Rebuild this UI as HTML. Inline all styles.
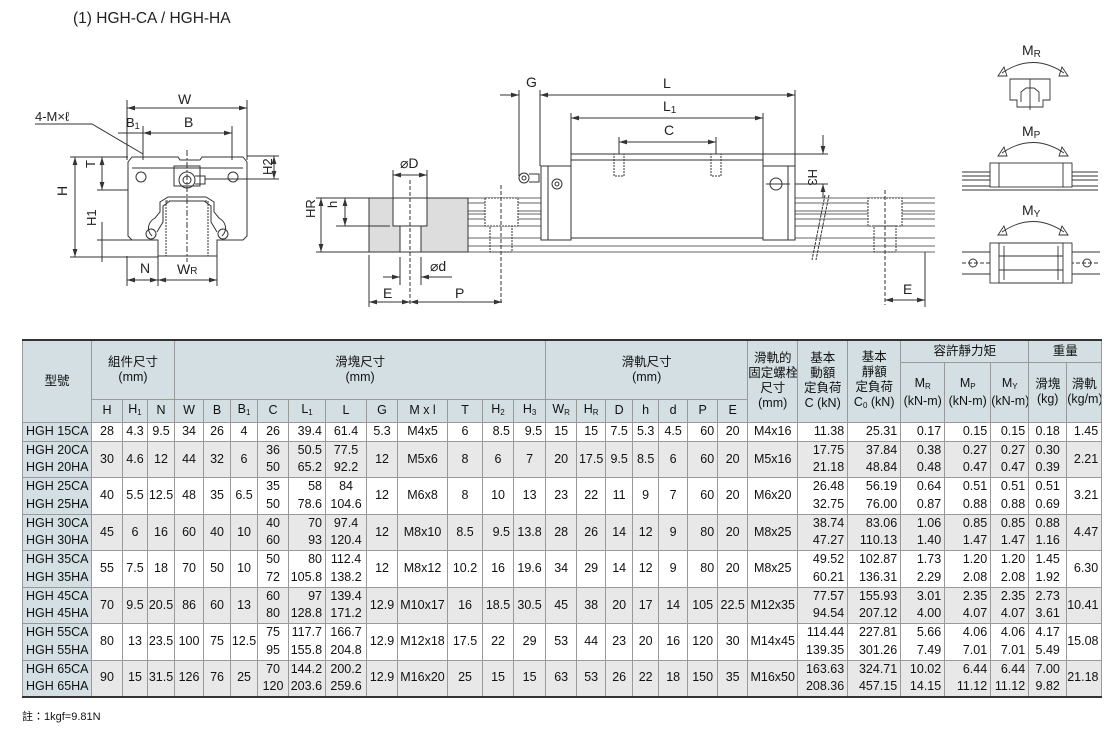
<!DOCTYPE html>
<html><head><meta charset="utf-8"><style>
body{margin:0;width:1111px;height:730px;background:#fff;position:relative;overflow:hidden;font-family:"Liberation Sans","Noto Sans CJK TC",sans-serif;color:#111}
svg{position:absolute;left:0;top:0}
svg text{font-family:"Liberation Sans","Noto Sans CJK TC",sans-serif;fill:#222}
.d{marker-start:url(#a);marker-end:url(#a)}
table{position:absolute;left:22px;top:339px;border-collapse:collapse;table-layout:fixed;width:1079px;font-size:12.5px}
td{border:1px solid #999;padding:0;text-align:center;white-space:nowrap;overflow:hidden;line-height:17.5px}
thead td{background:#d4dfe3;font-size:12.5px;line-height:15px}
thead tr:first-child td{border-top:2px solid #333}
.m{background:#d4dfe3;text-align:left;padding-left:3px;font-size:12.5px}
tbody tr.g td{background:#e8e8e8}
tbody tr.g td.m{background:#d4dfe3}
tbody tr{border-top:1px solid #444}
tbody tr:last-child td{border-bottom:2px solid #333}
.r{text-align:right;padding-right:3px}
sub{font-size:8px;vertical-align:-2px}
.note{position:absolute;left:22px;top:708px;font-size:11px}
</style></head><body>
<svg width="1111" height="335" viewBox="0 0 1111 335" fill="none" stroke="#333" stroke-width="1">
<defs><marker id="a" viewBox="0 0 10 6" refX="10" refY="3" markerWidth="8" markerHeight="5" orient="auto-start-reverse" markerUnits="userSpaceOnUse"><path d="M0 0 L10 3 L0 6 Z" fill="#333" stroke="none"/></marker></defs>
<text x="73" y="23" font-size="15.5" stroke="none">(1) HGH-CA / HGH-HA</text>
<g>
<text x="178" y="104" font-size="14" stroke="none">W</text>
<line class="d" x1="127" y1="108" x2="247" y2="108"/><line x1="127" y1="100" x2="127" y2="160"/><line x1="247" y1="100" x2="247" y2="160"/>
<text x="126" y="127" font-size="13" stroke="none">B<tspan font-size="9" dy="2">1</tspan></text>
<text x="184" y="127" font-size="14" stroke="none">B</text>
<line class="d" x1="143" y1="133" x2="232" y2="133"/><line x1="118" y1="133" x2="143" y2="133"/><line x1="143" y1="126" x2="143" y2="160"/><line x1="232" y1="126" x2="232" y2="160"/>
<text x="35" y="121" font-size="13" stroke="none">4-M×ℓ</text>
<path d="M35 124 H92 L143 154"/>
<path d="M128 162 L132 157 H178 L180 160 H200 L202 157 H243 L247 162 V236 L243 240 H217 V256 H158 V240 H132 L128 236 Z"/>
<path d="M132 168 H243"/>
<rect x="174" y="166" width="26" height="20"/>
<circle cx="187" cy="180" r="8"/><circle cx="187" cy="180" r="4"/><path d="M195 176 H205 V184 H195"/>
<path d="M152 236 C146 230 148 222 155 218 L160 212 V202 L168 197 H206 L214 202 V212 L219 218 C226 222 228 230 222 236"/>
<path d="M157 232 L163 222 V206 L170 201 H204 L211 206 V222 L217 232"/>
<rect x="166" y="201" width="42" height="55" stroke-dasharray="2 1"/>
<circle cx="141" cy="177" r="5"/><circle cx="233" cy="177" r="5"/><circle cx="151" cy="234" r="5"/><circle cx="223" cy="234" r="5"/>
<line x1="187" y1="150" x2="187" y2="262" stroke-dasharray="6 2 2 2"/>
<line class="d" x1="75" y1="157" x2="75" y2="257"/><line x1="70" y1="157" x2="128" y2="157"/><line x1="70" y1="257" x2="158" y2="257"/>
<text x="68" y="205" font-size="14" stroke="none" transform="rotate(-90 63 201)">H</text>
<line class="d" x1="102" y1="157" x2="102" y2="190"/><line x1="97" y1="190" x2="128" y2="190"/>
<text x="95" y="176" font-size="13" stroke="none" transform="rotate(-90 91 172)">T</text>
<line class="d" x1="274" y1="156" x2="274" y2="179"/><line x1="247" y1="156" x2="279" y2="156"/><line x1="205" y1="179" x2="279" y2="179"/>
<text x="260" y="175" font-size="13" stroke="none" transform="rotate(-90 266 169)">H2</text>
<line x1="102" y1="222" x2="102" y2="262"/><line x1="97" y1="240" x2="132" y2="240"/>
<text x="96" y="234" font-size="13" stroke="none" transform="rotate(-90 92 230)">H1</text>
<line x1="127" y1="256" x2="127" y2="286"/><line x1="158" y1="256" x2="158" y2="286"/><line x1="217" y1="256" x2="217" y2="286"/>
<line class="d" x1="127" y1="280" x2="158" y2="280"/><line class="d" x1="158" y1="280" x2="217" y2="280"/>
<text x="140" y="273" font-size="14" stroke="none">N</text>
<text x="177" y="274" font-size="14" stroke="none">W<tspan font-size="10">R</tspan></text>
</g>
<g>
<rect x="369" y="198" width="99" height="54" fill="#ddd" stroke="#333"/>
<rect x="393" y="198" width="34" height="28" fill="#fff"/>
<rect x="400" y="226" width="21" height="26" fill="#fff"/>
<line x1="410" y1="180" x2="410" y2="305" stroke-dasharray="4 2"/>
<path d="M468 198 V252"/>
<path d="M468 198 H935 M468 203 H935 M468 211 H935 M468 214 H935 M468 219 H935 M468 226 H935 M468 238 H935 M468 246 H935 M468 252 H935" stroke-width="0.8"/>
<rect x="485" y="198" width="33" height="28" stroke-dasharray="2 1" fill="#fff"/><rect x="490" y="226" width="22" height="26" stroke-dasharray="2 1"/>
<line x1="501" y1="185" x2="501" y2="305" stroke-dasharray="4 2"/>
<rect x="868" y="198" width="34" height="28" stroke-dasharray="2 1" fill="#fff"/><rect x="874" y="226" width="22" height="26" stroke-dasharray="2 1"/>
<line x1="885" y1="190" x2="885" y2="305" stroke-dasharray="4 2"/>
<rect x="541" y="166" width="30" height="74" fill="#fff"/><rect x="571" y="154" width="192" height="84" fill="#fff"/><rect x="763" y="166" width="32" height="74" fill="#fff"/>
<line x1="571" y1="160" x2="763" y2="160"/><line x1="548" y1="166" x2="548" y2="240"/><line x1="788" y1="166" x2="788" y2="240"/>
<rect x="614" y="154" width="10" height="22" stroke-dasharray="2 1"/><rect x="711" y="154" width="10" height="22" stroke-dasharray="2 1"/>
<circle cx="557" cy="184" r="5"/><circle cx="557" cy="184" r="2"/><circle cx="776" cy="184" r="6"/><line x1="766" y1="184" x2="790" y2="184"/>
<circle cx="524" cy="178" r="5"/><circle cx="524" cy="178" r="2"/><path d="M529 174 H539 V182 H529"/>
<path d="M825 195 L812 260 M829 195 L816 260" stroke-dasharray="3 1"/>
<text x="526" y="87" font-size="14" stroke="none">G</text>
<line x1="500" y1="95" x2="519" y2="95" marker-end="url(#a)"/><line x1="540" y1="95" x2="795" y2="95" class="d"/><line x1="519" y1="90" x2="519" y2="176"/><line x1="540" y1="90" x2="540" y2="166"/><line x1="795" y1="90" x2="795" y2="166"/>
<text x="663" y="88" font-size="14" stroke="none">L</text>
<text x="663" y="111" font-size="14" stroke="none">L<tspan font-size="10" dy="2">1</tspan></text>
<line class="d" x1="571" y1="118" x2="763" y2="118"/><line x1="571" y1="113" x2="571" y2="154"/><line x1="763" y1="113" x2="763" y2="166"/>
<text x="664" y="135" font-size="14" stroke="none">C</text>
<line class="d" x1="619" y1="142" x2="716" y2="142"/><line x1="619" y1="137" x2="619" y2="154"/><line x1="716" y1="137" x2="716" y2="154"/>
<line x1="823" y1="135" x2="823" y2="154" marker-end="url(#a)"/><line x1="823" y1="198" x2="823" y2="184" marker-end="url(#a)"/><line x1="763" y1="154" x2="828" y2="154"/><line x1="795" y1="184" x2="828" y2="184"/>
<text x="808" y="177" font-size="13" stroke="none" transform="rotate(90 812 173)">H3</text>
<text x="400" y="168" font-size="14" stroke="none">⌀D</text>
<line class="d" x1="393" y1="175" x2="427" y2="175"/><line x1="393" y1="170" x2="393" y2="198"/><line x1="427" y1="170" x2="427" y2="198"/>
<line class="d" x1="321" y1="198" x2="321" y2="252"/><line x1="316" y1="198" x2="369" y2="198"/><line x1="316" y1="252" x2="369" y2="252"/>
<text x="315" y="228" font-size="13" stroke="none" transform="rotate(-90 310 223)">HR</text>
<line class="d" x1="345" y1="198" x2="345" y2="226"/><line x1="336" y1="226" x2="390" y2="226"/>
<text x="337" y="216" font-size="13" stroke="none" transform="rotate(-90 333 212)">h</text>
<text x="430" y="271" font-size="14" stroke="none">⌀d</text>
<line x1="383" y1="277" x2="400" y2="277" marker-end="url(#a)"/><line x1="452" y1="277" x2="421" y2="277" marker-end="url(#a)"/><line x1="400" y1="257" x2="400" y2="285"/><line x1="421" y1="257" x2="421" y2="285"/>
<text x="383" y="298" font-size="14" stroke="none">E</text><text x="455" y="298" font-size="14" stroke="none">P</text>
<line class="d" x1="369" y1="302" x2="410" y2="302"/><line class="d" x1="410" y1="302" x2="502" y2="302"/><line x1="369" y1="255" x2="369" y2="307"/>
<text x="903" y="294" font-size="14" stroke="none">E</text>
<line class="d" x1="885" y1="300" x2="925" y2="300"/><line x1="925" y1="252" x2="925" y2="307"/>
</g>
<g stroke-width="0.9">
<text x="1022" y="55" font-size="14" stroke="none">M<tspan font-size="10" dy="2">R</tspan></text>
<path d="M1002 73 Q1033 52 1064 73"/><path d="M998 76 L1004 67 L1007 76 Z M1068 76 L1062 67 L1059 76 Z"/>
<path d="M1010 79 H1050 V100 H1043 V107 H1017 V100 H1010 Z"/><path d="M1021 102 V92 L1026 88 H1034 L1039 92 V102"/><line x1="1030" y1="79" x2="1030" y2="110"/>
<text x="1022" y="136" font-size="14" stroke="none">M<tspan font-size="10" dy="2">P</tspan></text>
<path d="M1002 153 Q1033 132 1064 153"/><path d="M998 156 L1004 147 L1007 156 Z M1068 156 L1062 147 L1059 156 Z"/>
<path d="M962 172 H1098 M962 176 H1098 M962 180 H1098 M962 186 H1098 M962 190 H1098"/>
<rect x="990" y="163" width="82" height="24" fill="#fff"/><line x1="999" y1="163" x2="999" y2="187"/><line x1="1063" y1="163" x2="1063" y2="187"/>
<text x="1022" y="215" font-size="14" stroke="none">M<tspan font-size="10" dy="2">Y</tspan></text>
<path d="M1002 232 Q1033 211 1064 232"/><path d="M998 235 L1004 226 L1007 235 Z M1068 235 L1062 226 L1059 235 Z"/>
<path d="M962 252 H1100 M962 274 H1100"/><line x1="962" y1="263" x2="1100" y2="263" stroke-dasharray="4 2"/>
<circle cx="973" cy="263" r="4"/><circle cx="1087" cy="263" r="4"/>
<rect x="990" y="243" width="82" height="40" fill="#fff"/><rect x="999" y="243" width="64" height="40"/>
<line x1="999" y1="256" x2="1063" y2="256"/><line x1="999" y1="270" x2="1063" y2="270"/>
<line x1="1004" y1="246" x2="1004" y2="280"/><line x1="1058" y1="246" x2="1058" y2="280"/>
</g>
</svg>
<table>
<colgroup><col style="width:69px"><col style="width:31px"><col style="width:25px"><col style="width:27px"><col style="width:29px"><col style="width:27px"><col style="width:27px"><col style="width:31px"><col style="width:37px"><col style="width:41px"><col style="width:31px"><col style="width:50px"><col style="width:35px"><col style="width:31px"><col style="width:32px"><col style="width:31px"><col style="width:29px"><col style="width:27px"><col style="width:26px"><col style="width:29px"><col style="width:30px"><col style="width:30px"><col style="width:50px"><col style="width:50px"><col style="width:53px"><col style="width:44px"><col style="width:46px"><col style="width:38px"><col style="width:38px"><col style="width:35px"></colgroup>
<thead>
<tr style="height:22px"><td rowspan="3">型號</td><td colspan="3" rowspan="2">組件尺寸<br>(mm)</td><td colspan="11" rowspan="2">滑塊尺寸<br>(mm)</td><td colspan="7" rowspan="2">滑軌尺寸<br>(mm)</td><td rowspan="3">滑軌的<br>固定螺栓<br>尺寸<br>(mm)</td><td rowspan="3">基本<br>動額<br>定負荷<br>C (kN)</td><td rowspan="3">基本<br>靜額<br>定負荷<br>C<sub>0</sub> (kN)</td><td colspan="3">容許靜力矩</td><td colspan="2">重量</td></tr>
<tr style="height:37px"><td rowspan="2">M<sub>R</sub><br>(kN-m)</td><td rowspan="2">M<sub>P</sub><br>(kN-m)</td><td rowspan="2">M<sub>Y</sub><br>(kN-m)</td><td rowspan="2">滑塊<br>(kg)</td><td rowspan="2">滑軌<br>(kg/m)</td></tr>
<tr style="height:23px"><td>H</td><td>H<sub>1</sub></td><td>N</td><td>W</td><td>B</td><td>B<sub>1</sub></td><td>C</td><td>L<sub>1</sub></td><td>L</td><td>G</td><td>M x l</td><td>T</td><td>H<sub>2</sub></td><td>H<sub>3</sub></td><td>W<sub>R</sub></td><td>H<sub>R</sub></td><td>D</td><td>h</td><td>d</td><td>P</td><td>E</td></tr>
</thead>
<tbody>
<tr style="height:19px"><td class="m">HGH 15CA</td><td>28</td><td>4.3</td><td>9.5</td><td>34</td><td>26</td><td>4</td><td>26</td><td class="r">39.4</td><td>61.4</td><td>5.3</td><td>M4x5</td><td>6</td><td class="r">8.5</td><td class="r">9.5</td><td>15</td><td>15</td><td>7.5</td><td>5.3</td><td>4.5</td><td class="r">60</td><td>20</td><td>M4x16</td><td class="r">11.38</td><td class="r">25.31</td><td class="r">0.17</td><td class="r">0.15</td><td class="r">0.15</td><td>0.18</td><td class="r">1.45</td></tr>
<tr class="g" style="height:36.5px"><td class="m">HGH 20CA<br>HGH 20HA</td><td>30</td><td>4.6</td><td>12</td><td>44</td><td>32</td><td>6</td><td>36<br>50</td><td class="r">50.5<br>65.2</td><td>77.5<br>92.2</td><td>12</td><td>M5x6</td><td>8</td><td>6</td><td>7</td><td>20</td><td>17.5</td><td>9.5</td><td>8.5</td><td>6</td><td class="r">60</td><td>20</td><td>M5x16</td><td class="r">17.75<br>21.18</td><td class="r">37.84<br>48.84</td><td class="r">0.38<br>0.48</td><td class="r">0.27<br>0.47</td><td class="r">0.27<br>0.47</td><td>0.30<br>0.39</td><td class="r">2.21</td></tr>
<tr style="height:36.5px"><td class="m">HGH 25CA<br>HGH 25HA</td><td>40</td><td>5.5</td><td>12.5</td><td>48</td><td>35</td><td>6.5</td><td>35<br>50</td><td class="r">58<br>78.6</td><td>84<br>104.6</td><td>12</td><td>M6x8</td><td>8</td><td>10</td><td>13</td><td>23</td><td>22</td><td>11</td><td>9</td><td>7</td><td class="r">60</td><td>20</td><td>M6x20</td><td class="r">26.48<br>32.75</td><td class="r">56.19<br>76.00</td><td class="r">0.64<br>0.87</td><td class="r">0.51<br>0.88</td><td class="r">0.51<br>0.88</td><td>0.51<br>0.69</td><td class="r">3.21</td></tr>
<tr class="g" style="height:36.5px"><td class="m">HGH 30CA<br>HGH 30HA</td><td>45</td><td>6</td><td>16</td><td>60</td><td>40</td><td>10</td><td>40<br>60</td><td class="r">70<br>93</td><td>97.4<br>120.4</td><td>12</td><td>M8x10</td><td>8.5</td><td class="r">9.5</td><td>13.8</td><td>28</td><td>26</td><td>14</td><td>12</td><td>9</td><td class="r">80</td><td>20</td><td>M8x25</td><td class="r">38.74<br>47.27</td><td class="r">83.06<br>110.13</td><td class="r">1.06<br>1.40</td><td class="r">0.85<br>1.47</td><td class="r">0.85<br>1.47</td><td>0.88<br>1.16</td><td class="r">4.47</td></tr>
<tr style="height:36.5px"><td class="m">HGH 35CA<br>HGH 35HA</td><td>55</td><td>7.5</td><td>18</td><td>70</td><td>50</td><td>10</td><td>50<br>72</td><td class="r">80<br>105.8</td><td>112.4<br>138.2</td><td>12</td><td>M8x12</td><td>10.2</td><td>16</td><td>19.6</td><td>34</td><td>29</td><td>14</td><td>12</td><td>9</td><td class="r">80</td><td>20</td><td>M8x25</td><td class="r">49.52<br>60.21</td><td class="r">102.87<br>136.31</td><td class="r">1.73<br>2.29</td><td class="r">1.20<br>2.08</td><td class="r">1.20<br>2.08</td><td>1.45<br>1.92</td><td class="r">6.30</td></tr>
<tr class="g" style="height:36.5px"><td class="m">HGH 45CA<br>HGH 45HA</td><td>70</td><td>9.5</td><td>20.5</td><td>86</td><td>60</td><td>13</td><td>60<br>80</td><td class="r">97<br>128.8</td><td>139.4<br>171.2</td><td>12.9</td><td>M10x17</td><td>16</td><td>18.5</td><td>30.5</td><td>45</td><td>38</td><td>20</td><td>17</td><td>14</td><td>105</td><td>22.5</td><td>M12x35</td><td class="r">77.57<br>94.54</td><td class="r">155.93<br>207.12</td><td class="r">3.01<br>4.00</td><td class="r">2.35<br>4.07</td><td class="r">2.35<br>4.07</td><td>2.73<br>3.61</td><td class="r">10.41</td></tr>
<tr style="height:36.5px"><td class="m">HGH 55CA<br>HGH 55HA</td><td>80</td><td>13</td><td>23.5</td><td>100</td><td>75</td><td>12.5</td><td>75<br>95</td><td class="r">117.7<br>155.8</td><td>166.7<br>204.8</td><td>12.9</td><td>M12x18</td><td>17.5</td><td>22</td><td>29</td><td>53</td><td>44</td><td>23</td><td>20</td><td>16</td><td>120</td><td>30</td><td>M14x45</td><td class="r">114.44<br>139.35</td><td class="r">227.81<br>301.26</td><td class="r">5.66<br>7.49</td><td class="r">4.06<br>7.01</td><td class="r">4.06<br>7.01</td><td>4.17<br>5.49</td><td class="r">15.08</td></tr>
<tr class="g" style="height:36.5px"><td class="m">HGH 65CA<br>HGH 65HA</td><td>90</td><td>15</td><td>31.5</td><td>126</td><td>76</td><td>25</td><td>70<br>120</td><td class="r">144.2<br>203.6</td><td>200.2<br>259.6</td><td>12.9</td><td>M16x20</td><td>25</td><td>15</td><td>15</td><td>63</td><td>53</td><td>26</td><td>22</td><td>18</td><td>150</td><td>35</td><td>M16x50</td><td class="r">163.63<br>208.36</td><td class="r">324.71<br>457.15</td><td class="r">10.02<br>14.15</td><td class="r">6.44<br>11.12</td><td class="r">6.44<br>11.12</td><td>7.00<br>9.82</td><td class="r">21.18</td></tr>
</tbody></table>
<div class="note">註：1kgf=9.81N</div>
</body></html>
